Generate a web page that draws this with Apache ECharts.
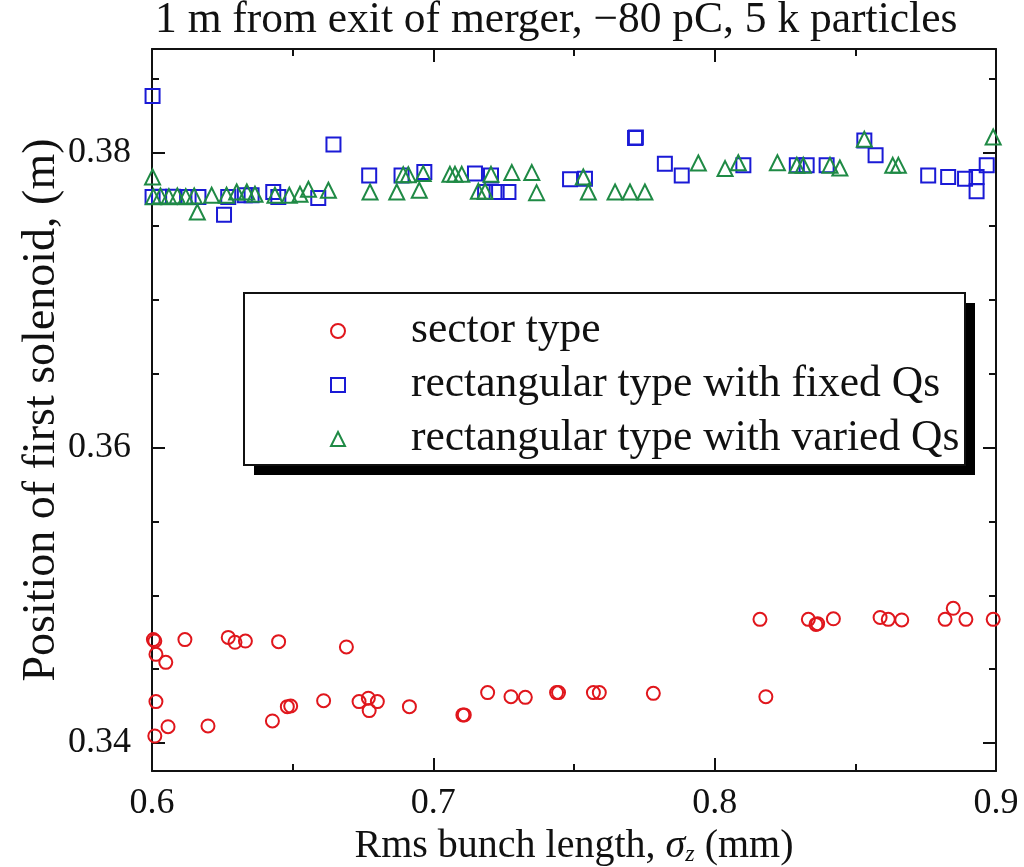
<!DOCTYPE html>
<html>
<head>
<meta charset="utf-8">
<script src="https://cdn.jsdelivr.net/npm/echarts@6/dist/echarts.min.js"></script>
<style>
  html, body { margin: 0; padding: 0; background: #fff; }
  #chart { width: 1024px; height: 867px; }
</style>
</head>
<body>
<div id="chart"></div>
<script>
// Solenoid position vs. rms bunch length for three merger layouts
const titleText = '1 m from exit of merger, \u221280 pC, 5 k particles';
const seriesNames = ['sector type', 'rectangular type with fixed Qs', 'rectangular type with varied Qs'];

const xMajorTicks = [0.6, 0.7, 0.8, 0.9];
const xMinorTicks = [0.65, 0.75, 0.85];
const yMajorTicks = [0.34, 0.36, 0.38];
const yMinorTicks = [0.345, 0.35, 0.355, 0.365, 0.37, 0.375, 0.385];

// [sigma_z (mm), solenoid position (m)]
const sectorType = [
  [0.6005, 0.3470], [0.6010, 0.3469], [0.6117, 0.3470], [0.6271, 0.34715], [0.6295, 0.34682],
  [0.6332, 0.3469], [0.6450, 0.34686], [0.6691, 0.3465], [0.6014, 0.3460], [0.5999, 0.3455],
  [0.6049, 0.34546], [0.6014, 0.3428], [0.6057, 0.3411], [0.6010, 0.34047], [0.6199, 0.34115],
  [0.6428, 0.34149], [0.6481, 0.34246], [0.6493, 0.3425], [0.6610, 0.34286], [0.6736, 0.3428],
  [0.6769, 0.34303], [0.6801, 0.3428], [0.6772, 0.34219], [0.6915, 0.34246], [0.7105, 0.3419],
  [0.7110, 0.3419], [0.7193, 0.34341], [0.7276, 0.34313], [0.7327, 0.34309], [0.7438, 0.34341],
  [0.7445, 0.34341], [0.7569, 0.34341], [0.7590, 0.34341], [0.7782, 0.34336], [0.8161, 0.34837],
  [0.8182, 0.34313], [0.8333, 0.34837], [0.8360, 0.34803], [0.8366, 0.34808], [0.8422, 0.34841],
  [0.8588, 0.3485], [0.8617, 0.34837], [0.8665, 0.34833], [0.8819, 0.34837], [0.8848, 0.34912],
  [0.8893, 0.34837], [0.8990, 0.34837]
];

const rectFixedQs = [
  [0.6002, 0.38381], [0.6002, 0.37697], [0.6025, 0.37700], [0.6075, 0.37700], [0.6130, 0.37697],
  [0.6165, 0.37697], [0.6256, 0.37578], [0.6271, 0.37697], [0.6330, 0.37709], [0.6354, 0.37709],
  [0.6431, 0.37731], [0.6449, 0.37697], [0.6591, 0.37691], [0.6645, 0.38054], [0.6772, 0.37844],
  [0.6887, 0.37844], [0.6968, 0.37867], [0.7148, 0.37856], [0.7205, 0.37844], [0.7184, 0.37731],
  [0.7225, 0.37731], [0.7267, 0.37731], [0.7486, 0.37817], [0.7539, 0.37822], [0.7717, 0.38097],
  [0.7720, 0.38100], [0.7823, 0.37923], [0.7883, 0.37844], [0.8102, 0.37912], [0.8292, 0.37912],
  [0.8327, 0.37912], [0.8398, 0.37912], [0.8532, 0.38081], [0.8572, 0.3798], [0.8759, 0.37844],
  [0.8830, 0.37833], [0.8890, 0.37822], [0.8931, 0.37833], [0.8931, 0.37736], [0.8967, 0.37912]
];

const rectVariedQs = [
  [0.6002, 0.37833], [0.6005, 0.37700], [0.6030, 0.37705], [0.6060, 0.37700], [0.6090, 0.37705],
  [0.6120, 0.37700], [0.6150, 0.37705], [0.6161, 0.37596], [0.6212, 0.37709], [0.6265, 0.37709],
  [0.6301, 0.37731], [0.6337, 0.37731], [0.6366, 0.37716], [0.6437, 0.37709], [0.6488, 0.37709],
  [0.6526, 0.37716], [0.6556, 0.3775], [0.6627, 0.37743], [0.6775, 0.37731], [0.6870, 0.37731],
  [0.6893, 0.37849], [0.6911, 0.37849], [0.6950, 0.37743], [0.6964, 0.37856], [0.7059, 0.37851],
  [0.7077, 0.37851], [0.7101, 0.37851], [0.7160, 0.37736], [0.7184, 0.37736], [0.7205, 0.37851],
  [0.7279, 0.37863], [0.7350, 0.37863], [0.7367, 0.37727], [0.7533, 0.37833], [0.7551, 0.37731],
  [0.7646, 0.37731], [0.7699, 0.37731], [0.7752, 0.37731], [0.7942, 0.37928], [0.8037, 0.3789],
  [0.8084, 0.3793], [0.8223, 0.3793], [0.8292, 0.37912], [0.8315, 0.37912], [0.8410, 0.37912],
  [0.8445, 0.37894], [0.8532, 0.38088], [0.8633, 0.37912], [0.8653, 0.37912], [0.8990, 0.38104]
];

const FONT = '"Liberation Serif", "DejaVu Serif", serif';
const INK = '#111';
const xRange = { min: 0.6, max: 0.9 };
const yRange = { min: 0.3381, max: 0.387 };
const gridBox = { left: 152, right: 28, top: 49, bottom: 96, containLabel: false, outerBoundsMode: 'none' };
// legend frame with its drop shadow
const legendFrame = { x: 244, y: 293, width: 721, height: 172, shadow: 10 };

function xAxisDef(gridIndex, position, ticks, tickLen, withLine, withLabel) {
  return {
    type: 'value', gridIndex, position, min: xRange.min, max: xRange.max,
    axisLine: { show: withLine, onZero: false, lineStyle: { color: INK, width: 2 } },
    axisTick: { show: true, inside: true, length: tickLen, customValues: ticks, lineStyle: { color: INK, width: 2 } },
    axisLabel: withLabel
      ? { show: true, customValues: xMajorTicks, margin: 15, color: INK, fontFamily: FONT, fontSize: 36 }
      : { show: false },
    splitLine: { show: false }
  };
}

function yAxisDef(gridIndex, position, ticks, tickLen, withLine, withLabel) {
  return {
    type: 'value', gridIndex, position, min: yRange.min, max: yRange.max,
    axisLine: { show: withLine, onZero: false, lineStyle: { color: INK, width: 2 } },
    axisTick: { show: true, inside: true, length: tickLen, customValues: ticks, lineStyle: { color: INK, width: 2 } },
    axisLabel: withLabel
      ? { show: true, customValues: yMajorTicks, margin: 21, color: INK, fontFamily: FONT, fontSize: 36 }
      : { show: false },
    splitLine: { show: false }
  };
}

const xAxes = [
  xAxisDef(0, 'bottom', xMajorTicks, 13, true, true),
  xAxisDef(0, 'top', xMajorTicks, 13, true, false),
  xAxisDef(1, 'bottom', xMinorTicks, 7, false, false),
  xAxisDef(1, 'top', xMinorTicks, 7, false, false)
];
Object.assign(xAxes[0], {
  name: '{t|Rms bunch length, }{s|\u03c3}{z|z}{t| (mm)}',
  nameLocation: 'middle',
  nameGap: 45,
  nameTextStyle: {
    rich: {
      t: { fontFamily: FONT, fontSize: 40, color: INK },
      s: { fontFamily: FONT, fontSize: 40, fontStyle: 'italic', color: INK },
      z: { fontFamily: FONT, fontSize: 24, fontStyle: 'italic', color: INK, verticalAlign: 'bottom', padding: [14, 0, 0, 0] }
    }
  }
});

const yAxes = [
  yAxisDef(0, 'left', yMajorTicks, 13, true, true),
  yAxisDef(0, 'right', yMajorTicks, 13, true, false),
  yAxisDef(1, 'left', yMinorTicks, 7, false, false),
  yAxisDef(1, 'right', yMinorTicks, 7, false, false)
];
Object.assign(yAxes[0], {
  name: 'Position of first solenoid, (m)',
  nameLocation: 'middle',
  nameGap: 87,
  nameMoveOverlap: false,
  nameRotate: 90,
  nameTextStyle: { fontFamily: FONT, fontSize: 46, color: INK }
});

function scatter(name, data, symbol, color, size) {
  return {
    name, type: 'scatter', data, symbol, symbolSize: size,
    xAxisIndex: 0, yAxisIndex: 0,
    itemStyle: { color: 'rgba(255,255,255,0)', borderColor: color, borderWidth: 2, opacity: 1 },
    emphasis: { disabled: true }
  };
}

const chart = echarts.init(document.getElementById('chart'), null, { renderer: 'canvas' });
chart.setOption({
  backgroundColor: '#fff',
  animation: false,
  title: {
    text: titleText, left: 155, top: -1, padding: 0,
    textStyle: { fontFamily: FONT, fontSize: 43.5, fontWeight: 'normal', color: INK }
  },
  grid: [Object.assign({}, gridBox), Object.assign({}, gridBox)],
  xAxis: xAxes,
  yAxis: yAxes,
  graphic: [
    {
      type: 'rect', z: 3,
      shape: { x: legendFrame.x + legendFrame.shadow, y: legendFrame.y + legendFrame.shadow, width: legendFrame.width, height: legendFrame.height },
      style: { fill: '#000' }
    },
    {
      type: 'rect', z: 3,
      shape: { x: legendFrame.x, y: legendFrame.y, width: legendFrame.width, height: legendFrame.height },
      style: { fill: '#fff', stroke: INK, lineWidth: 2 }
    }
  ],
  legend: {
    orient: 'vertical', left: 330, top: 309, padding: 0, z: 5,
    itemWidth: 14, itemHeight: 14, itemGap: 10,
    textStyle: { fontFamily: FONT, fontSize: 43.5, color: INK, padding: [0, 0, 0, 61] },
    selectedMode: false,
    data: seriesNames
  },
  series: [
    scatter(seriesNames[0], sectorType, 'circle', '#e0161c', 13),
    scatter(seriesNames[1], rectFixedQs, 'rect', '#1a1ad6', 14),
    scatter(seriesNames[2], rectVariedQs, 'triangle', '#1f8a45', 15)
  ]
});
</script>
</body>
</html>
